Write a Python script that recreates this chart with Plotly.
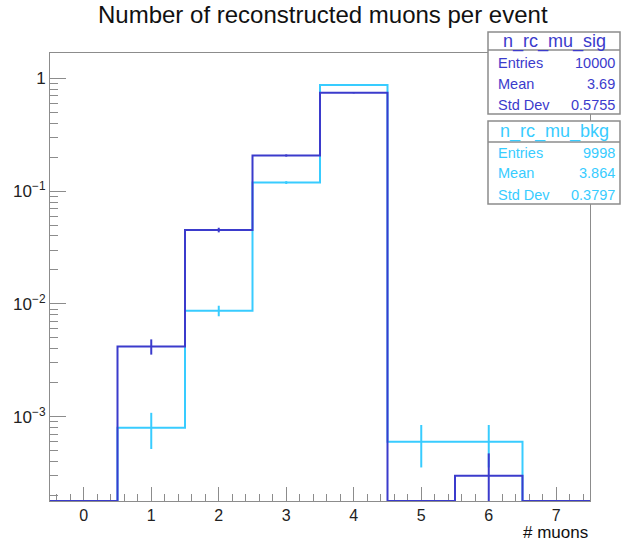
import math
import plotly.graph_objects as go

# ---------------- data ----------------
bin_centers = [0, 1, 2, 3, 4, 5, 6, 7]
sig_counts = [0, 42, 452, 2068, 7435, 0, 3, 0]
bkg_counts = [0, 8, 87, 1190, 8701, 6, 6, 0]
sig_name = "n_rc_mu_sig"
bkg_name = "n_rc_mu_bkg"
sig_stats = [("Entries", "10000"), ("Mean", "3.69"), ("Std Dev", "0.5755")]
bkg_stats = [("Entries", "9998"), ("Mean", "3.864"), ("Std Dev", "0.3797")]
x_tick_vals = [0, 1, 2, 3, 4, 5, 6, 7]
y_tick_vals = [1e-3, 1e-2, 1e-1, 1]
y_tick_text = ["10<sup>\u22123</sup>", "10<sup>\u22122</sup>", "10<sup>\u22121</sup>", "1"]
title_text = "Number of reconstructed muons per event"
x_title = "# muons"

# ---------------- style / layout ----------------
W, H = 623, 543
L, R, T, B = 50, 590, 53, 501          # frame in pixels
YLOG_RANGE = [-3.747, 0.224]
XRANGE = [-0.5, 7.5]
SIG_COLOR = "#3b3bcc"
BKG_COLOR = "#38ccff"
FONT = "Liberation Sans, Arial, Helvetica, sans-serif"
AXIS_COLOR = "#8c8c8c"
BOX_COLOR = "#8c8c8c"

ymin_val = 10 ** YLOG_RANGE[0]


def px_to_paper(px, py):
    return (px - L) / (R - L), (B - py) / (B - T)


def hist_traces(counts, color):
    n = sum(counts)
    vals = [c / n for c in counts]
    errs = [math.sqrt(c) / n for c in counts]
    edges = [c - 0.5 for c in bin_centers] + [bin_centers[-1] + 0.5]
    ys = [max(v, ymin_val) for v in vals]
    step = go.Scatter(
        x=edges, y=ys + [ys[-1]], mode="lines", line_shape="hv",
        line=dict(color=color, width=2), hoverinfo="skip", showlegend=False,
    )
    ex, ey = [], []
    for c, v, e in zip(bin_centers, vals, errs):
        if v > 0:
            ex += [c, c, None]
            ey += [max(v - e, ymin_val), v + e, None]
    err = go.Scatter(
        x=ex, y=ey, mode="lines", line=dict(color=color, width=2),
        hoverinfo="skip", showlegend=False,
    )
    return [step, err]


fig = go.Figure()
for t in hist_traces(bkg_counts, BKG_COLOR):
    fig.add_trace(t)
for t in hist_traces(sig_counts, SIG_COLOR):
    fig.add_trace(t)

minor_y = [m * 10 ** d for d in range(-4, 1) for m in range(2, 10)]

fig.update_layout(
    width=W, height=H,
    margin=dict(l=L, r=W - R, t=T, b=H - B, pad=0),
    paper_bgcolor="white", plot_bgcolor="white",
    font=dict(family=FONT, color="#222222", size=16),
    xaxis=dict(
        range=XRANGE, showgrid=False, zeroline=False,
        showline=True, linecolor=AXIS_COLOR, linewidth=1, mirror=True,
        ticks="inside", ticklen=14, tickcolor=AXIS_COLOR, tickwidth=1,
        tickvals=x_tick_vals, tickfont=dict(size=16, family=FONT, color="#222"),
        minor=dict(ticks="inside", ticklen=7, tickcolor=AXIS_COLOR, dtick=0.2, tick0=0, showgrid=False),
        layer="below traces",
    ),
    yaxis=dict(
        type="log", range=YLOG_RANGE, showgrid=False, zeroline=False,
        showline=True, linecolor=AXIS_COLOR, linewidth=1, mirror=True,
        ticks="inside", ticklen=16, tickcolor=AXIS_COLOR, tickwidth=1,
        tickvals=y_tick_vals, ticktext=y_tick_text,
        tickfont=dict(size=17, family=FONT, color="#222"),
        minor=dict(ticks="inside", ticklen=8, tickcolor=AXIS_COLOR, tickvals=minor_y, showgrid=False),
        layer="below traces",
    ),
)

# title
tx, ty = px_to_paper(323, 15)
fig.add_annotation(text=title_text, x=tx, y=ty, xref="paper", yref="paper",
                   showarrow=False, xanchor="center", yanchor="middle",
                   font=dict(size=24, family=FONT, color="#111"))
# x-axis title
ax_, ay_ = px_to_paper(590, 532)
fig.add_annotation(text=x_title, x=ax_, y=ay_, xref="paper", yref="paper",
                   showarrow=False, xanchor="right", yanchor="middle",
                   font=dict(size=17, family=FONT, color="#111"))


def stats_box(name, stats, color, top, header_bottom, bottom, header_y, row_ys):
    x0, y0 = px_to_paper(488, bottom)
    x1, y1 = px_to_paper(620, top)
    fig.add_shape(type="rect", xref="paper", yref="paper", x0=x0, y0=y0, x1=x1, y1=y1,
                  line=dict(color=BOX_COLOR, width=1.5), fillcolor="white", layer="above")
    _, hy = px_to_paper(0, header_bottom)
    fig.add_shape(type="line", xref="paper", yref="paper", x0=x0, y0=hy, x1=x1, y1=hy,
                  line=dict(color=BOX_COLOR, width=1.5), layer="above")
    cx, cy = px_to_paper(554, header_y)
    fig.add_annotation(text=name, x=cx, y=cy, xref="paper", yref="paper", showarrow=False,
                       xanchor="center", yanchor="middle",
                       font=dict(size=18, family=FONT, color=color))
    for (lab, val), ry in zip(stats, row_ys):
        lx, ly = px_to_paper(496, ry)
        fig.add_annotation(text=lab, x=lx, y=ly, xref="paper", yref="paper", showarrow=False,
                           xanchor="left", yanchor="middle",
                           font=dict(size=14.5, family=FONT, color=color))
        vx, vy = px_to_paper(617, ry)
        fig.add_annotation(text=val, x=vx, y=vy, xref="paper", yref="paper", showarrow=False,
                           xanchor="right", yanchor="middle",
                           font=dict(size=14.5, family=FONT, color=color))


stats_box(sig_name, sig_stats, SIG_COLOR, 32, 50, 114, 41.5, [63, 84, 105])
stats_box(bkg_name, bkg_stats, BKG_COLOR, 121, 142, 204, 131.5, [153, 173, 195])

fig.write_html("out.html")
